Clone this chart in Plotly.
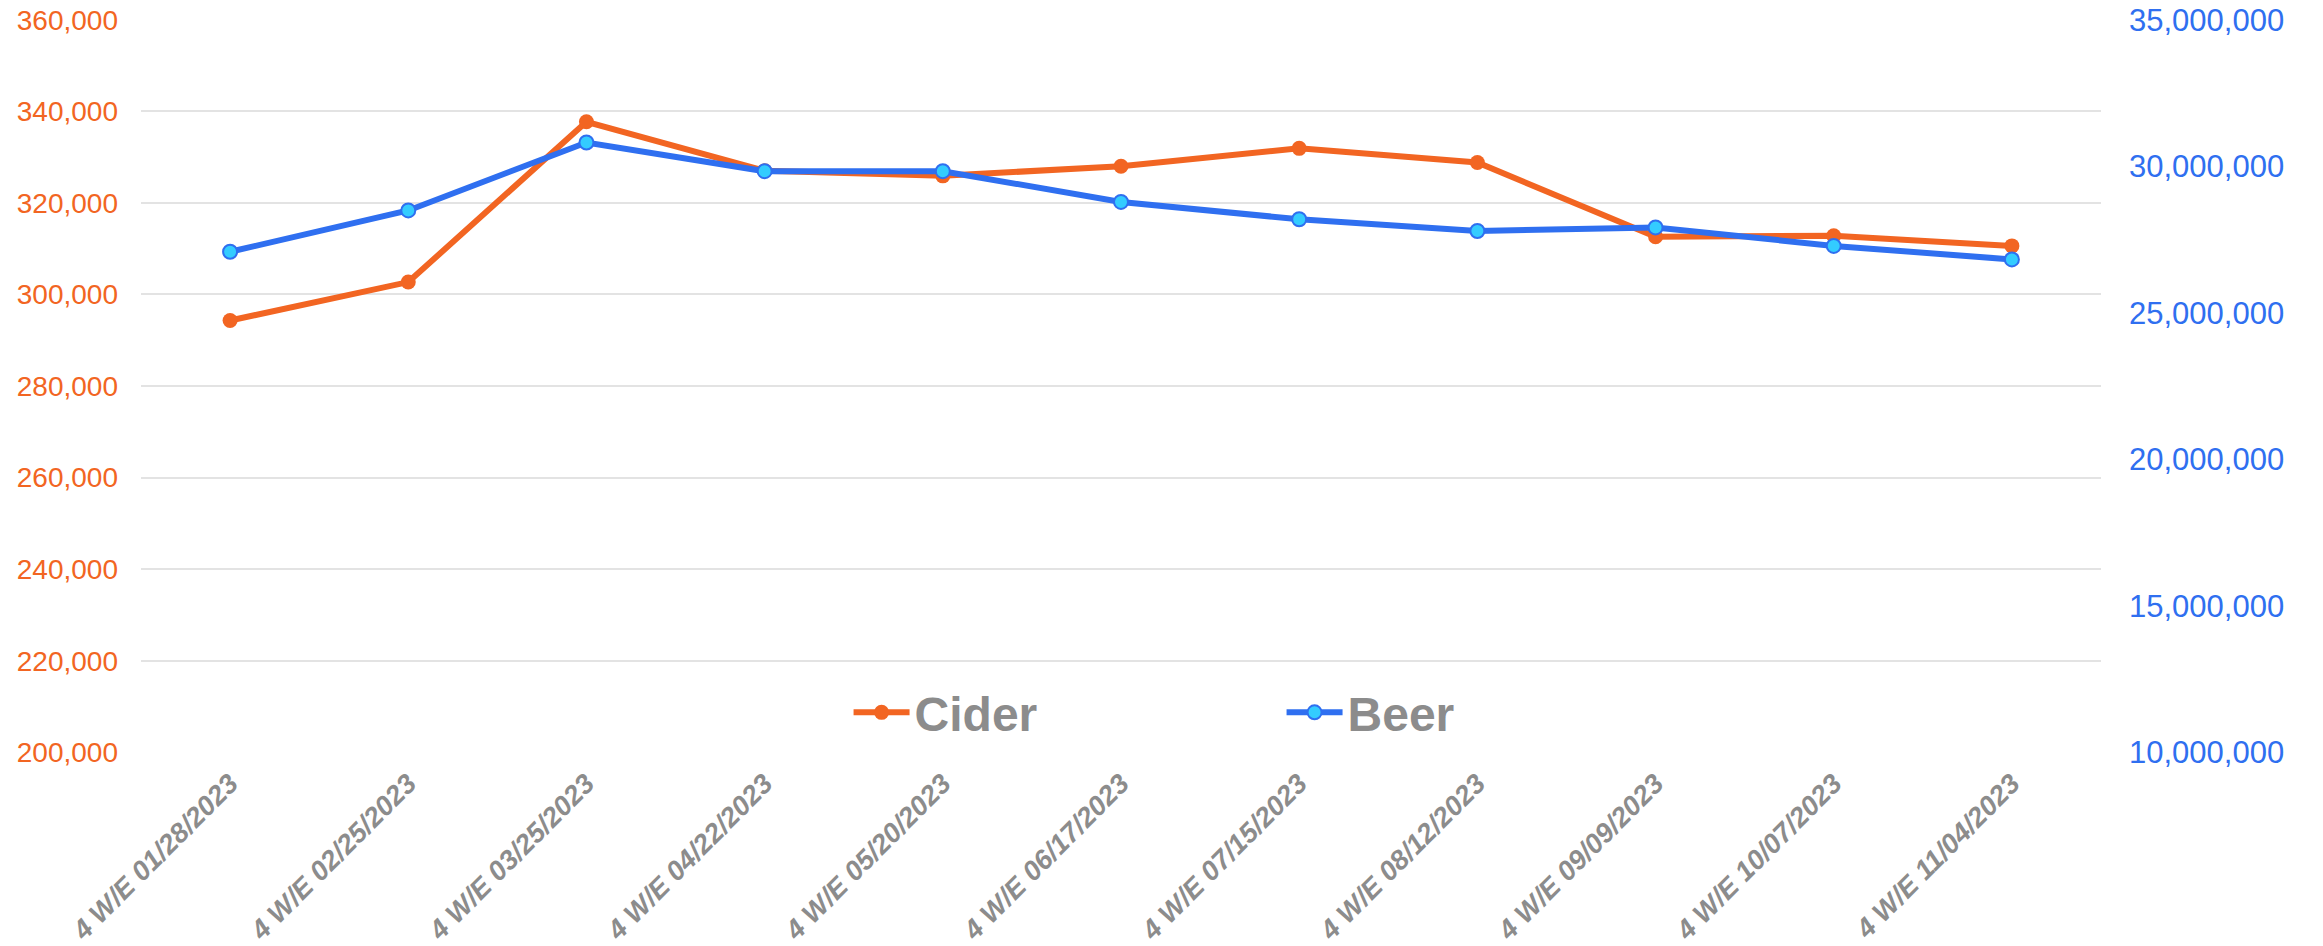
import plotly.graph_objects as go

categories = ["4 W/E 01/28/2023", "4 W/E 02/25/2023", "4 W/E 03/25/2023", "4 W/E 04/22/2023",
              "4 W/E 05/20/2023", "4 W/E 06/17/2023", "4 W/E 07/15/2023", "4 W/E 08/12/2023",
              "4 W/E 09/09/2023", "4 W/E 10/07/2023", "4 W/E 11/04/2023"]
cider = [294300, 302700, 337700, 327000, 325900, 328000, 331900, 328800, 312600, 312800, 310600]
beer = [27080000, 28490000, 30810000, 29830000, 29830000, 28780000, 28190000, 27790000,
        27910000, 27280000, 26820000]
left_ticks = [200000, 220000, 240000, 260000, 280000, 300000, 320000, 340000, 360000]
right_ticks = [10000000, 15000000, 20000000, 25000000, 30000000, 35000000]

ORANGE = "#F26522"
BLUE = "#2F6FF0"
CYAN = "#33CCFF"
GREY = "#8C8C8C"
FONT = "Liberation Sans, Arial, sans-serif"

# small padding so the edge gridlines are drawn
pad_l = 150
pad_r = pad_l * (35000000 - 10000000) / (360000 - 200000)

fig = go.Figure()
fig.add_trace(go.Scatter(
    x=categories, y=cider, name="Cider", mode="lines+markers",
    line=dict(color=ORANGE, width=6),
    marker=dict(color=ORANGE, size=15, line=dict(width=0)),
    yaxis="y"))
fig.add_trace(go.Scatter(
    x=categories, y=beer, name="Beer", mode="lines+markers",
    line=dict(color=BLUE, width=6),
    marker=dict(color=CYAN, size=14, line=dict(color=BLUE, width=2)),
    yaxis="y2"))

fig.update_layout(
    width=2323, height=946,
    margin=dict(l=141, r=222, t=19, b=193),
    paper_bgcolor="white", plot_bgcolor="white",
    font=dict(family=FONT),
    showlegend=True,
    legend=dict(
        orientation="h", x=0.361, xanchor="left", y=0.055, yanchor="middle",
        font=dict(size=48, color=GREY, family=FONT, weight="bold"),
        entrywidth=362, entrywidthmode="pixels", itemwidth=56,
        bgcolor="rgba(0,0,0,0)",
    ),
    xaxis=dict(
        type="category", range=[-0.5, len(categories) - 0.5],
        showgrid=False, showline=False, zeroline=False,
        tickangle=-45, ticks="", ticklabelstandoff=8, automargin=False,
        tickfont=dict(size=27.5, color=GREY, family=FONT, weight="bold", style="italic"),
    ),
    yaxis=dict(
        range=[200000 - pad_l, 360000 + pad_l], tickvals=left_ticks, tickformat=",",
        showgrid=True, gridcolor="#E3E3E3", gridwidth=2, automargin=False,
        zeroline=False, showline=False, ticks="", ticklabelstandoff=22,
        tickfont=dict(size=28, color=ORANGE, family=FONT),
    ),
    yaxis2=dict(
        range=[10000000 - pad_r, 35000000 + pad_r], tickvals=right_ticks, tickformat=",",
        overlaying="y", side="right", showgrid=False, zeroline=False, showline=False,
        ticks="", ticklabelstandoff=27, automargin=False,
        tickfont=dict(size=31, color=BLUE, family=FONT),
    ),
)

fig.write_html(
    "out.html",
    config={"displayModeBar": False},
    post_script="document.body.style.margin='0';document.body.style.overflow='hidden';",
)
